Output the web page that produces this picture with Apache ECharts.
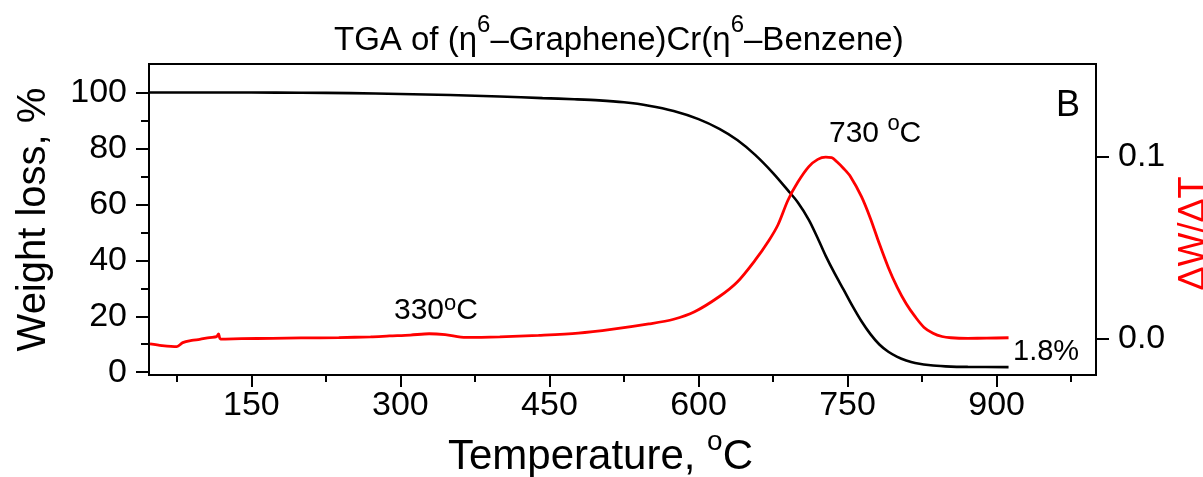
<!DOCTYPE html>
<html>
<head>
<meta charset="utf-8">
<script src="https://cdn.jsdelivr.net/npm/echarts@6/dist/echarts.min.js"></script>
<style>html,body{margin:0;padding:0;background:#fff}#c{width:1203px;height:477px}</style>
</head>
<body>
<div id="c"></div>
<script>
// Weight loss (black, left axis): [temperature °C, weight %]
const weightCurve = [
  [47,100],[100,100],[150,100],[200,99.9],[250,99.8],[300,99.5],[350,99.1],[400,98.6],
  [443,98.0],[475,97.6],[500,97.2],[525,96.5],[550,95.3],[575,93.4],[600,90.5],
  [621,87.0],[639,83.0],[657,77.7],[675,71.2],[690,65.0],[700,60.7],[711,54.5],
  [720,47.9],[728,41.6],[737,35.3],[746,29.5],[755,23.6],[764,18.2],[773,13.6],
  [782,9.9],[791,7.3],[800,5.5],[809,4.2],[818,3.3],[836,2.4],[854,2.0],[871,1.9],[912,1.8]
];
// Derivative dW/dT (red, right axis): [temperature °C, value]
const derivCurve = [
  [48,-0.0031],[60,-0.0040],[75,-0.0046],[81,-0.0024],[90,-0.0012],[98,-0.0006],
  [108,0.0004],[115,0.0009],[117,0.0024],[119,-0.0004],[140,-0.0002],[171,0.0],
  [200,0.0002],[238,0.0004],[270,0.0008],[289,0.0013],[310,0.0018],[329,0.0025],
  [345,0.0020],[366,0.0005],[400,0.0008],[439,0.0016],[479,0.0028],[514,0.0050],
  [550,0.0079],[575,0.0105],[596,0.0146],[621,0.0230],[639,0.0310],[657,0.0430],
  [671,0.0540],[680,0.0625],[690,0.0760],[700,0.0860],[711,0.0945],[720,0.0985],
  [728,0.0997],[734,0.0995],[739,0.0973],[746,0.0935],[753,0.0890],[764,0.0780],
  [773,0.0660],[782,0.0520],[791,0.0390],[800,0.0280],[809,0.0190],[818,0.0119],
  [827,0.0060],[836,0.0028],[845,0.0010],[854,0.0003],[871,0.0],[890,0.0001],[912,0.0003]
];
const xMajorTicks = [150,300,450,600,750,900];
const xMinorTicks = [75,225,375,525,675,825,975];
const yMajorTicks = [0,20,40,60,80,100];
const yMinorTicks = [10,30,50,70,90];
const y2Ticks = [0,0.1];

const FONT = 'Liberation Sans, Arial, sans-serif';
const chart = echarts.init(document.getElementById('c'));
const axisLineStyle = {show:true, onZero:false, lineStyle:{color:'#000', width:2}};
// main text bottom-aligned in a line of height lh, superscript top-aligned
const supText = (fs, fsSup, lh) => ({
  n:{fontSize:fs, fontFamily:FONT, fontWeight:'normal', color:'#000', fill:'#000', lineHeight:lh, verticalAlign:'bottom'},
  s:{fontSize:fsSup, fontFamily:FONT, fontWeight:'normal', color:'#000', fill:'#000', verticalAlign:'top'}
});
const option = {
  animation:false,
  backgroundColor:'#fff',
  title:{
    text:'{n|TGA of (η}{s|6}{n|–Graphene)Cr(η}{s|6}{n|–Benzene)}',
    left:329, top:8,
    textStyle:{fontFamily:FONT, fontWeight:'normal', color:'#000', rich:supText(33, 24, 44)}
  },
  grid:{left:149, right:107, top:64, bottom:102, show:true, borderColor:'#000', borderWidth:2,
        backgroundColor:'transparent', outerBoundsMode:'none', containLabel:false},
  xAxis:[
    {type:'value', min:47, max:1000, position:'bottom',
     axisLine:axisLineStyle,
     axisTick:{show:true, length:12, lineStyle:{color:'#000', width:2}, customValues:xMajorTicks},
     axisLabel:{show:true, customValues:xMajorTicks, fontSize:34, fontFamily:FONT, color:'#000', margin:14},
     splitLine:{show:false},
     name:'{n|Temperature, }{s|o}{n|C}', nameLocation:'middle', nameGap:35,
     nameTextStyle:{fontSize:42, fontFamily:FONT, color:'#000', padding:[0,44,0,0], rich:supText(42, 28, 51)}
    },
    {type:'value', min:47, max:1000, position:'bottom',
     axisLine:{show:false, onZero:false},
     axisTick:{show:true, length:7, lineStyle:{color:'#000', width:2}, customValues:xMinorTicks},
     axisLabel:{show:false}, splitLine:{show:false}}
  ],
  yAxis:[
    {type:'value', min:-1, max:110.2, position:'left',
     axisLine:axisLineStyle,
     axisTick:{show:true, length:13, lineStyle:{color:'#000', width:2}, customValues:yMajorTicks},
     axisLabel:{show:true, customValues:yMajorTicks, fontSize:34, fontFamily:FONT, color:'#000', margin:22},
     splitLine:{show:false},
     name:'Weight loss, %', nameLocation:'middle', nameGap:95, nameRotate:90,
     nameTextStyle:{fontSize:40, fontFamily:FONT, color:'#000'}
    },
    {type:'value', min:-0.0202, max:0.151, position:'right',
     axisLine:axisLineStyle,
     axisTick:{show:true, length:13, lineStyle:{color:'#000', width:2}, customValues:y2Ticks},
     axisLabel:{show:true, customValues:y2Ticks, fontSize:34, fontFamily:FONT, color:'#000', margin:22,
       formatter:v=>v.toFixed(1)},
     splitLine:{show:false},
     name:'ΔW/ΔT', nameLocation:'middle', nameGap:68, nameRotate:90,
     nameTextStyle:{fontSize:36, fontFamily:FONT, color:'#ff0000', padding:[0,28,0,0]}
    },
    {type:'value', min:-1, max:110.2, position:'left',
     axisLine:{show:false, onZero:false},
     axisTick:{show:true, length:8, lineStyle:{color:'#000', width:2}, customValues:yMinorTicks},
     axisLabel:{show:false}, splitLine:{show:false}}
  ],
  series:[
    {type:'line', name:'weight', xAxisIndex:0, yAxisIndex:0, data:weightCurve, showSymbol:false, symbol:'none',
     smooth:0.3, lineStyle:{color:'#000', width:2.6}, z:3},
    {type:'line', name:'deriv', xAxisIndex:0, yAxisIndex:1, data:derivCurve, showSymbol:false, symbol:'none',
     smooth:0.3, lineStyle:{color:'#ff0000', width:2.8}, z:4}
  ],
  graphic:[
    {type:'text', left:394, top:293, style:{text:'{n|330}{s|o}{n|C}', font:'30px '+FONT, fill:'#000', rich:supText(30, 22, 33)}},
    {type:'text', left:829, top:113, style:{text:'{n|730 }{s|o}{n|C}', font:'30px '+FONT, fill:'#000', rich:supText(30, 22, 36)}},
    {type:'text', left:1056, top:88, style:{text:'B', font:'36px '+FONT, fill:'#000'}},
    {type:'text', left:1013, top:337, style:{text:'1.8%', font:'29px '+FONT, fill:'#000'}}
  ]
};
chart.setOption(option);
</script>
</body>
</html>
